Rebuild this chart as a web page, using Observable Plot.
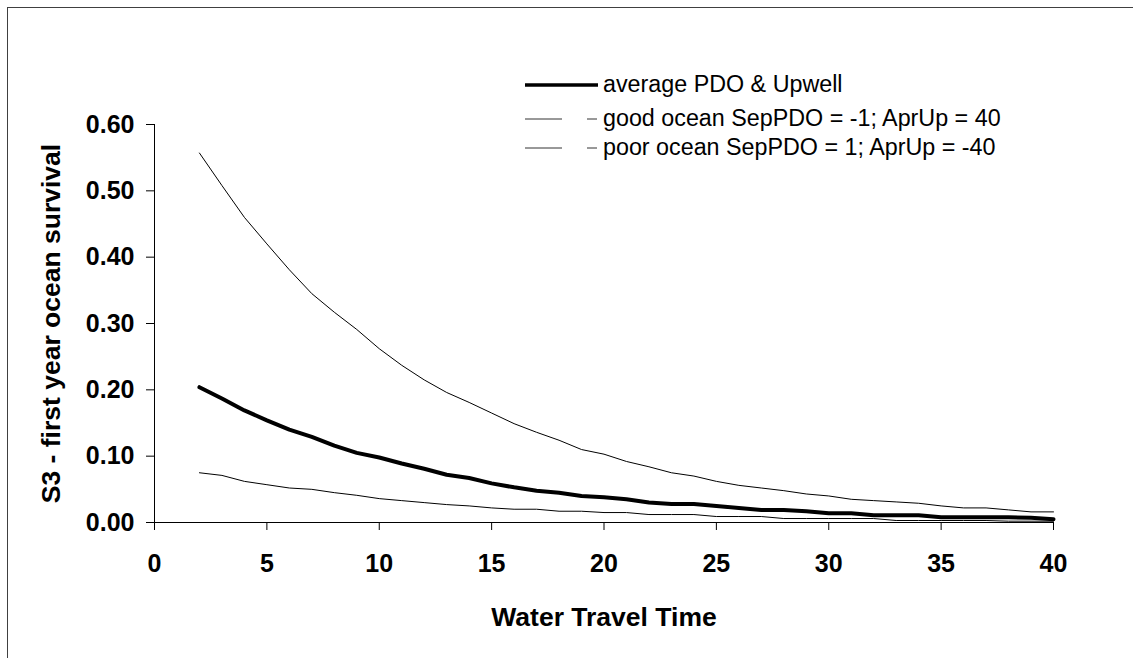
<!DOCTYPE html>
<html>
<head>
<meta charset="utf-8">
<script src="https://cdn.jsdelivr.net/npm/d3@7"></script>
<script src="https://cdn.jsdelivr.net/npm/@observablehq/plot@0.6"></script>
<style>
  html, body { margin: 0; padding: 0; background: #fff; overflow: hidden; }
  #wrap { position: relative; width: 1133px; height: 658px; overflow: hidden; }
  #frame { position: absolute; left: 7px; top: 7px; width: 1200px; height: 700px;
           border: 1px solid #404040; pointer-events: none; }
  #legend { position: absolute; left: 0; top: 0; pointer-events: none; }
  #legend text { font-family: "Liberation Sans", Arial, sans-serif; font-size: 23.3px; fill: #000; }
</style>
</head>
<body>
<div id="wrap"><div id="chart"></div><div id="frame"></div></div>
<script>
// ---- data ----
const travelTime = [2,3,4,5,6,7,8,9,10,11,12,13,14,15,16,17,18,19,20,21,22,23,24,25,26,27,28,29,30,31,32,33,34,35,36,37,38,39,40];
const averageOcean = [0.204,0.187,0.169,0.154,0.140,0.129,0.116,0.105,0.098,0.089,0.081,0.072,0.067,0.059,0.053,0.048,0.045,0.040,0.038,0.035,0.030,0.028,0.028,0.025,0.022,0.019,0.019,0.017,0.014,0.014,0.011,0.011,0.011,0.008,0.008,0.008,0.008,0.007,0.005];
const goodOcean = [0.557,0.508,0.460,0.420,0.381,0.345,0.317,0.291,0.262,0.237,0.215,0.196,0.181,0.165,0.149,0.136,0.124,0.110,0.103,0.092,0.084,0.075,0.070,0.062,0.056,0.052,0.048,0.043,0.040,0.035,0.033,0.031,0.029,0.025,0.022,0.022,0.019,0.016,0.016];
const poorOcean = [0.075,0.071,0.062,0.057,0.052,0.050,0.045,0.041,0.036,0.033,0.030,0.027,0.025,0.022,0.020,0.020,0.017,0.017,0.015,0.015,0.012,0.012,0.012,0.009,0.009,0.009,0.006,0.006,0.006,0.006,0.006,0.003,0.003,0.003,0.003,0.003,0.002,0.002,0.002];
const seriesNames = ["average PDO & Upwell", "good ocean SepPDO = -1; AprUp = 40", "poor ocean SepPDO = 1; AprUp = -40"];
const xTicks = [0,5,10,15,20,25,30,35,40];
const yTicks = [0,0.1,0.2,0.3,0.4,0.5,0.6];
const xLabel = ["Water Travel Time"];
const yLabel = ["S3 - first year ocean survival"];

const toRows = (vals) => travelTime.map((t, i) => ({t, v: vals[i]}));
const avgRows = toRows(averageOcean);
const goodRows = toRows(goodOcean);
const poorRows = toRows(poorOcean);

const font = "'Liberation Sans', Arial, sans-serif";

const chart = Plot.plot({
  width: 1133,
  height: 658,
  marginLeft: 154,
  marginRight: 80,
  marginTop: 124,
  marginBottom: 136,
  style: {fontFamily: font, background: "transparent", color: "#000", overflow: "visible"},
  x: {domain: [0, 40]},
  y: {domain: [0, 0.6]},
  marks: [
    Plot.axisX({ticks: xTicks, tickSize: 8, tickPadding: 24, fontSize: 25, fontWeight: "bold", label: null, tickFormat: d3.format("d")}),
    Plot.axisY({ticks: yTicks, tickSize: 8, tickPadding: 12, fontSize: 25, fontWeight: "bold", label: null, tickFormat: d3.format(".2f")}),
    Plot.ruleX([0], {stroke: "#000", strokeWidth: 1}),
    Plot.ruleY([0], {stroke: "#000", strokeWidth: 1}),
    Plot.line(poorRows, {x: "t", y: "v", stroke: "#000", strokeWidth: 1}),
    Plot.line(goodRows, {x: "t", y: "v", stroke: "#000", strokeWidth: 1}),
    Plot.line(avgRows, {x: "t", y: "v", stroke: "#000", strokeWidth: 4}),
    Plot.text(xLabel, {frameAnchor: "bottom", dy: 95, text: d => d, fontSize: 26.5, fontWeight: "bold", lineAnchor: "middle"}),
    Plot.text(yLabel, {frameAnchor: "left", dx: -103, text: d => d, rotate: -90, fontSize: 26.5, fontWeight: "bold", lineAnchor: "middle", textAnchor: "middle"})
  ]
});
document.getElementById("chart").appendChild(chart);

// ---- legend (overlay) ----
const ns = "http://www.w3.org/2000/svg";
const leg = document.createElementNS(ns, "svg");
leg.setAttribute("id", "legend");
leg.setAttribute("width", 1133);
leg.setAttribute("height", 200);
const rowsY = [85, 119, 148];
const textY = [84, 118, 147];
seriesNames.forEach((name, i) => {
  if (i === 0) {
    const l = document.createElementNS(ns, "line");
    l.setAttribute("x1", 525); l.setAttribute("x2", 598);
    l.setAttribute("y1", rowsY[i]); l.setAttribute("y2", rowsY[i]);
    l.setAttribute("stroke", "#000"); l.setAttribute("stroke-width", 3.5);
    leg.appendChild(l);
  } else {
    [[525, 562], [587, 597]].forEach(([a, b]) => {
      const l = document.createElementNS(ns, "line");
      l.setAttribute("x1", a); l.setAttribute("x2", b);
      l.setAttribute("y1", rowsY[i]); l.setAttribute("y2", rowsY[i]);
      l.setAttribute("stroke", "#333"); l.setAttribute("stroke-width", 1);
      leg.appendChild(l);
    });
  }
  const t = document.createElementNS(ns, "text");
  t.setAttribute("x", 603);
  t.setAttribute("y", textY[i]);
  t.setAttribute("dominant-baseline", "central");
  t.textContent = name;
  leg.appendChild(t);
});
document.getElementById("wrap").appendChild(leg);
</script>
</body>
</html>
